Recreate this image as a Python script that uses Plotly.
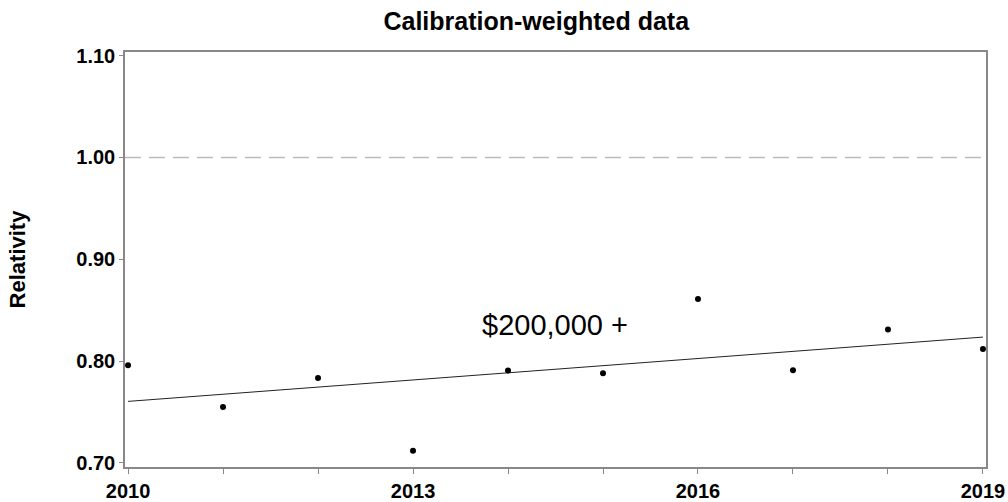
import numpy as np
import plotly.graph_objects as go

years = [2010, 2011, 2012, 2013, 2014, 2015, 2016, 2017, 2018, 2019]
relativity = [0.796, 0.755, 0.7835, 0.712, 0.7907, 0.788, 0.861, 0.791, 0.831, 0.812]
reference_level = 1.00
label_text = "$200,000 +"
label_pos = (2014.49, 0.835)
x_tick_vals = [2010, 2013, 2016, 2019]
y_tick_vals = [0.70, 0.80, 0.90, 1.00, 1.10]

slope, intercept = np.polyfit(years, relativity, 1)
trend_x = [years[0], years[-1]]
trend_y = [slope * x + intercept for x in trend_x]

FONT = "Liberation Sans, Arial"

fig = go.Figure()
fig.add_trace(go.Scatter(x=trend_x, y=trend_y, mode="lines",
                         line=dict(color="#222", width=1), hoverinfo="skip"))
fig.add_trace(go.Scatter(x=years, y=relativity, mode="markers",
                         marker=dict(color="black", size=6), cliponaxis=False))

fig.add_hline(y=reference_level, line=dict(color="#bbbbbb", width=1.5, dash="16px,8px"))

fig.add_annotation(x=label_pos[0], y=label_pos[1], text=label_text, showarrow=False,
                   font=dict(family=FONT, size=29, color="black"))

fig.update_layout(
    width=1008, height=502,
    margin=dict(l=125, r=22, t=52, b=35, autoexpand=False),
    paper_bgcolor="white", plot_bgcolor="white",
    showlegend=False,
    title=dict(text="<b>Calibration-weighted data</b>", x=0.532, xanchor="center",
               y=0.958, yanchor="middle",
               font=dict(family=FONT, size=25, color="black")),
    font=dict(family=FONT, color="black"),
)
fig.update_xaxes(range=[2009.968, 2019.032], tickvals=x_tick_vals,
                 ticktext=[f"<b>{v}</b>" for v in x_tick_vals],
                 ticks="outside", ticklen=5, tickcolor="#888", automargin=False,
                 minor=dict(dtick=1, ticks="outside", ticklen=5, tickcolor="#888", showgrid=False),
                 showgrid=False, zeroline=False, showline=True, linecolor="#888", linewidth=1.5,
                 mirror=True, tickfont=dict(size=20, family=FONT))
fig.update_yaxes(range=[0.696, 1.1036], tickvals=y_tick_vals,
                 ticktext=[f"<b>{v:.2f}</b>" for v in y_tick_vals],
                 ticks="outside", ticklen=4, tickcolor="#888", automargin=False,
                 showgrid=False, zeroline=False, showline=True, linecolor="#888", linewidth=1.5,
                 mirror=True, tickfont=dict(size=20, family=FONT),
                 title=dict(text="<b>Relativity</b>", standoff=45,
                            font=dict(size=22, family=FONT)))

fig.write_html("out.html", config={"displayModeBar": False},
               post_script="document.body.style.margin='0';document.body.style.overflow='hidden';")
